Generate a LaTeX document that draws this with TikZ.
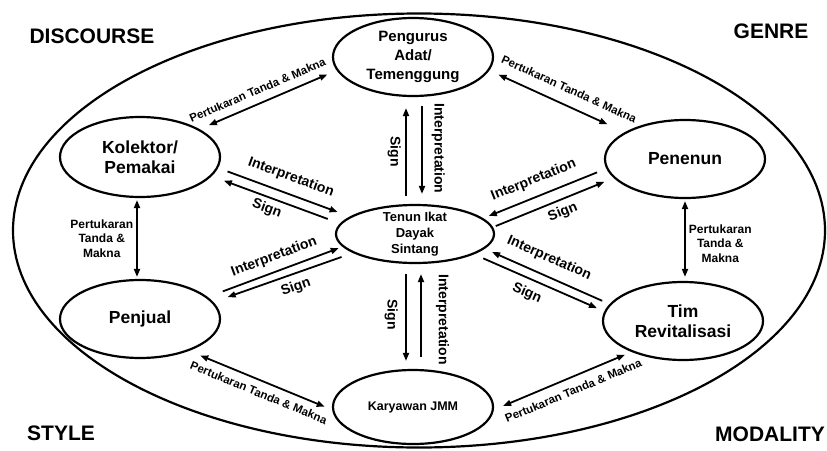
\documentclass[tikz,border=0pt]{standalone}
\usepackage{fontspec}
\setmainfont{Liberation Sans}
\usetikzlibrary{arrows.meta,shapes.geometric}

\begin{document}
\begin{tikzpicture}[x=1pt, y=-1pt,
  actor/.style={ellipse, draw, line width=2.2pt, inner sep=0pt,
                minimum width=160pt, minimum height=78pt, align=center,
                font=\fontsize{17.5}{20}\selectfont\bfseries},
  arrow/.style={-{Triangle[length=8pt,width=6pt]}, line width=1.8pt},
  twoway/.style={{Triangle[length=8pt,width=6pt]}-{Triangle[length=8pt,width=6pt]},
                 line width=1.8pt},
  lbl/.style={font=\fontsize{14}{16}\selectfont\bfseries, inner sep=1pt},
  vlbl/.style={lbl, rotate=-90},
  tukar/.style={font=\fontsize{11.5}{14}\selectfont\bfseries, inner sep=1pt},
  cornertext/.style={font=\fontsize{21}{24}\selectfont\bfseries}
]
  \useasboundingbox (0,0) rectangle (827,450);

  % outer frame
  \draw[line width=2.2pt] (419,230.5) ellipse [x radius=406, y radius=217];

  \node[cornertext] (disc) at (92,36) {DISCOURSE};
  \node[cornertext] (genre) at (771,31) {GENRE};
  \node[cornertext] (style) at (61,433) {STYLE};
  \node[cornertext] (modal) at (770,434) {MODALITY};

  % actors
  \node[actor, font=\fontsize{15}{19}\selectfont\bfseries] (peng) at (413,57) {Pengurus\\Adat/\\Temenggung};
  \node[actor, minimum height=80pt] (kol) at (140,157) {Kolektor/\\Pemakai};
  \node[actor] (penen) at (685,159) {Penenun};
  \node[actor, minimum width=158pt, minimum height=58pt, inner ysep=-3pt,
        font=\fontsize{13}{16}\selectfont\bfseries] (tenun) at (415,234) {Tenun Ikat\\Dayak\\Sintang};
  \node[actor] (penj) at (140,319) {Penjual};
  \node[actor] (tim) at (683,321) {Tim\\Revitalisasi};
  \node[actor, minimum height=74pt, font=\fontsize{12.5}{15}\selectfont\bfseries] (kary) at (413,407) {Karyawan JMM};

  % interpretation / sign pairs
  \draw[arrow, shorten <=10pt, shorten >=13pt] (kol.-8) -- node[lbl, sloped, above=8pt, pos=0.51]{Interpretation} (tenun.165);
  \draw[arrow, shorten <=13pt, shorten >=13pt] (tenun.172) -- node[lbl, sloped, below=3pt, pos=0.54]{Sign} (kol.-15);
  \draw[arrow, shorten <=16pt, shorten >=4pt] (penj.18) -- node[lbl, sloped, above=6pt, pos=0.53]{Interpretation} (tenun.190);
  \draw[arrow, shorten <=12pt, shorten >=15pt] (tenun.197) -- node[lbl, sloped, below=5pt, pos=0.44]{Sign} (penj.13);
  \draw[arrow, shorten <=10pt, shorten >=6pt] (penen.187) -- node[lbl, sloped, above=8pt, pos=0.54]{Interpretation} (tenun.13);
  \draw[arrow, shorten <=3pt, shorten >=10pt] (tenun.5) -- node[lbl, sloped, below=4pt, pos=0.54]{Sign} (penen.195);
  \draw[arrow, shorten <=8pt, shorten >=8pt] (tim.167) -- node[lbl, sloped, above=9pt, pos=0.54]{Interpretation} (tenun.-12);
  \draw[arrow, shorten <=10pt, shorten >=8pt] (tenun.-19) -- node[lbl, sloped, below=6pt, pos=0.45]{Sign} (tim.173);

  \draw[arrow, shorten <=8pt, shorten >=11pt] ([xshift=-9pt]tenun.north) -- node[vlbl, anchor=north, inner ysep=4.3pt, pos=0.49]{Sign} ([xshift=-7pt]peng.south);
  \draw[arrow, shorten <=9pt, shorten >=10pt] ([xshift=9pt]peng.south) -- node[vlbl, anchor=south, inner ysep=8.8pt, pos=0.48]{Interpretation} ([xshift=7pt]tenun.north);
  \draw[arrow, shorten <=10pt, shorten >=8pt] ([xshift=-9pt]tenun.south) -- node[vlbl, anchor=north, inner ysep=7.3pt, pos=0.48]{Sign} ([xshift=-7pt]kary.north);
  \draw[arrow, shorten <=12pt, shorten >=10pt] ([xshift=8pt]kary.north) -- node[vlbl, anchor=south, inner ysep=14pt, pos=0.47]{Interpretation} ([xshift=6pt]tenun.south);

  % exchanges between actors
  \draw[twoway, shorten <=10pt, shorten >=10pt] (kol.25) -- node[tukar, sloped, above=7pt, pos=0.46]{Pertukaran Tanda \& Makna} (peng.190);
  \draw[twoway, shorten <=10pt, shorten >=19pt] (peng.-10) -- node[tukar, sloped, above=10pt, pos=0.54]{Pertukaran Tanda \& Makna} (penen.156);
  \draw[twoway, shorten <=12pt, shorten >=8pt] (penj.-33) -- node[tukar, sloped, below=6pt, pos=0.52]{Pertukaran Tanda \& Makna} (kary.182);
  \draw[twoway, shorten <=7pt, shorten >=10pt] (tim.-149) -- node[tukar, sloped, below=7pt, pos=0.46]{Pertukaran Tanda \& Makna} (kary.-2);
  \draw[twoway, shorten <=2pt, shorten >=2pt] ([xshift=-3pt]kol.south) -- node[tukar, left=2pt, align=center, font=\fontsize{12}{14.5}\selectfont\bfseries, pos=0.5]{Pertukaran\\Tanda \&\\Makna} ([xshift=-3pt]penj.north);
  \draw[twoway, shorten <=2pt, shorten >=4pt] (penen.south) -- node[tukar, right=2pt, align=center, font=\fontsize{12}{14.5}\selectfont\bfseries, pos=0.54]{Pertukaran\\Tanda \&\\Makna} ([xshift=2pt]tim.north);
\end{tikzpicture}
\end{document}
